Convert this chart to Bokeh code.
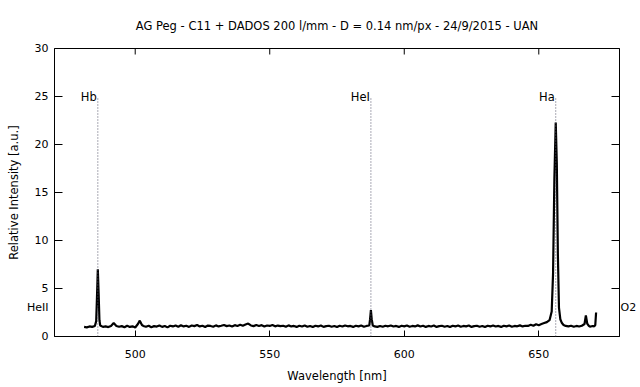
import math
from bokeh.plotting import figure
from bokeh.models import ColumnDataSource, LinearAxis, FixedTicker, Label, Arrow, Range1d
from bokeh.embed import file_html
from bokeh.resources import INLINE

title_text = "AG Peg - C11 + DADOS 200 l/mm - D = 0.14 nm/px - 24/9/2015 - UAN"
x_label = "Wavelength [nm]"
y_label = "Relative Intensity [a.u.]"

wavelength = [
    481, 482, 483, 484, 485, 485.5, 485.8, 486.1, 486.4, 486.7, 487, 488, 489, 490,
    491, 492, 493, 494, 495, 496, 497, 498, 499, 500, 501, 501.7, 502.5, 503, 504,
    505, 506, 507, 508, 509, 510, 511, 512, 513, 514, 515, 516, 517, 518, 519, 520,
    521, 522, 523, 524, 525, 526, 527, 528, 529, 530, 531, 532, 533, 534, 535, 536,
    537, 538, 539, 540, 541, 542, 543, 544, 545, 546, 547, 548, 549, 550, 551, 552,
    553, 554, 555, 556, 557, 558, 559, 560, 561, 562, 563, 564, 565, 566, 567, 568,
    569, 570, 571, 572, 573, 574, 575, 576, 577, 578, 579, 580, 581, 582, 583, 584,
    585, 586, 587, 587.3, 587.6, 587.9, 588.3, 589, 590, 591, 592, 593, 594, 595,
    596, 597, 598, 599, 600, 601, 602, 603, 604, 605, 606, 607, 608, 609, 610, 611,
    612, 613, 614, 615, 616, 617, 618, 619, 620, 621, 622, 623, 624, 625, 626, 627,
    628, 629, 630, 631, 632, 633, 634, 635, 636, 637, 638, 639, 640, 641, 642, 643,
    644, 645, 646, 647, 648, 649, 650, 651, 652, 653, 654, 654.8, 655.3, 655.8,
    656.3, 656.7, 657.1, 657.5, 658.0, 658.6, 659.2, 660, 661, 662, 663, 664, 665,
    666, 667, 667.5, 668, 668.6, 669, 670, 670.6, 671, 671.3,
]
intensity = [
    1.00, 0.95, 1.05, 1.00, 1.10, 1.60, 4.20, 7.00, 4.50, 1.70, 1.15, 1.00, 1.05, 0.98,
    1.10, 1.40, 1.10, 1.02, 1.08, 0.96, 1.12, 1.00, 1.06, 0.94, 1.30, 1.65, 1.20, 1.10, 1.02,
    1.12, 0.97, 1.08, 1.03, 1.15, 1.00, 1.10, 0.95, 1.12, 1.05, 1.15, 1.02, 1.18, 1.05, 1.12, 1.00,
    1.15, 1.08, 1.20, 1.05, 1.12, 1.00, 1.14, 1.10, 1.02, 1.16, 1.05, 1.12, 1.20, 1.08, 1.15, 1.05,
    1.18, 1.10, 1.22, 1.12, 1.25, 1.35, 1.15, 1.08, 1.20, 1.10, 1.18, 1.05, 1.15, 1.10, 1.20, 1.06,
    1.14, 1.08, 1.12, 1.02, 1.16, 1.05, 1.10, 1.00, 1.12, 1.04, 1.15, 1.02, 1.10, 0.98, 1.12, 1.05,
    1.15, 1.00, 1.08, 1.12, 1.02, 1.10, 0.98, 1.12, 1.04, 1.15, 1.06, 1.10, 1.00, 1.12, 1.05, 1.14,
    1.02, 1.10, 1.15, 1.80, 2.75, 1.80, 1.15, 1.05, 1.00, 1.10, 1.02, 1.12, 1.06, 1.15,
    1.04, 1.10, 1.00, 1.12, 1.06, 1.14, 1.02, 1.10, 1.05, 1.16, 1.04, 1.12, 1.00, 1.10, 1.04, 1.14,
    1.00, 1.08, 1.12, 1.02, 1.10, 0.98, 1.12, 1.05, 1.15, 1.02, 1.10, 1.05, 1.14, 1.00, 1.08, 1.12,
    1.02, 1.10, 0.98, 1.12, 1.05, 1.15, 1.04, 1.10, 1.00, 1.12, 1.06, 1.14, 1.02, 1.10, 1.06, 1.16,
    1.05, 1.12, 1.10, 1.22, 1.12, 1.28, 1.18, 1.30, 1.40, 1.50, 1.70, 2.60, 6.50, 16.50,
    22.30, 18.00, 8.50, 3.00, 1.80, 1.40, 1.20, 1.10, 1.05, 1.12, 1.02, 1.10, 1.04,
    1.12, 1.30, 2.20, 1.35, 1.10, 1.02, 1.10, 1.05, 1.20, 2.50,
]

line_names = ["HeII", "Hb", "HeI", "Ha", "O2"]
line_wl = [468.6, 486.1, 587.6, 656.3, 687.0]
line_top = [2.0, 25.0, 25.0, 25.0, 3.0]
label_y = [3.0, 25.0, 25.0, 25.0, 3.0]

x_ticks = [500, 550, 600, 650]
y_ticks = [0, 5, 10, 15, 20, 25, 30]
X_MIN, X_MAX = 470, 680
Y_MIN, Y_MAX = 0, 30

FONT = "DejaVu Sans"

p = figure(
    width=640, height=387,
    x_range=Range1d(X_MIN, X_MAX), y_range=Range1d(Y_MIN, Y_MAX),
    output_backend="svg", toolbar_location=None,
    min_border_left=54, min_border_right=21, min_border_top=48, min_border_bottom=51,
    x_axis_label=x_label, y_axis_label=y_label,
)
p.background_fill_color = "white"
p.border_fill_color = "white"
p.outline_line_color = "black"
p.outline_line_alpha = 1.0
p.xgrid.visible = False
p.ygrid.visible = False

p.title.text = title_text
p.title.align = "center"
p.title.text_font = FONT
p.title.text_font_size = "11.5px"
p.title.text_font_style = "normal"
p.title.text_color = "black"
p.title.standoff = 31

# line marks that fall outside the plotted range are labelled at the frame edges
left_marks = {ly: n for n, wl, ly in zip(line_names, line_wl, label_y) if wl < X_MIN}
right_marks = {ly: n for n, wl, ly in zip(line_names, line_wl, label_y) if wl > X_MAX}

for ax in p.xaxis:
    ax.ticker = FixedTicker(ticks=x_ticks)
    ax.major_tick_in = 6
    ax.major_tick_out = 0
    ax.minor_tick_in = 0
    ax.minor_tick_out = 0
    ax.axis_line_color = "black"
    ax.major_tick_line_color = "black"
    ax.major_label_text_font = FONT
    ax.major_label_text_font_size = "11px"
    ax.major_label_text_color = "black"
    ax.major_label_standoff = 13
    ax.axis_label_text_font = FONT
    ax.axis_label_text_font_size = "11.5px"
    ax.axis_label_text_font_style = "normal"
    ax.axis_label_text_color = "black"
    ax.axis_label_standoff = 8

for ax in p.yaxis:
    ax.ticker = FixedTicker(ticks=y_ticks + list(left_marks.keys()))
    ax.major_label_overrides = dict(left_marks)
    ax.major_tick_in = 0
    ax.major_tick_out = 0
    ax.minor_tick_in = 0
    ax.minor_tick_out = 0
    ax.axis_line_color = "black"
    ax.major_label_text_font = FONT
    ax.major_label_text_font_size = "11px"
    ax.major_label_text_color = "black"
    ax.major_label_standoff = 6
    ax.axis_label_text_font = FONT
    ax.axis_label_text_font_size = "11.5px"
    ax.axis_label_text_font_style = "normal"
    ax.axis_label_text_color = "black"
    ax.axis_label_standoff = 3

right_axis = LinearAxis(
    ticker=FixedTicker(ticks=list(right_marks.keys())), major_label_overrides=dict(right_marks),
    major_tick_in=0, major_tick_out=0, minor_tick_in=0, minor_tick_out=0,
    major_label_standoff=1, major_label_text_font=FONT, major_label_text_font_size="11px",
    major_label_text_color="black", axis_line_color="black",
)
p.add_layout(right_axis, "right")

# inward tick marks on left, right (mirror) and top (mirror) borders
p.ray(x=[X_MIN] * len(y_ticks), y=y_ticks, length=8, angle=0, length_units="screen",
      line_color="black", line_width=1)
p.ray(x=[X_MAX] * len(y_ticks), y=y_ticks, length=8, angle=math.pi, length_units="screen",
      line_color="black", line_width=1)
p.ray(x=x_ticks, y=[Y_MAX] * len(x_ticks), length=6, angle=-math.pi / 2, length_units="screen",
      line_color="black", line_width=1)

marks = ColumnDataSource(dict(
    wl=line_wl, top=line_top, y0=[0.0] * len(line_wl),
))
p.add_layout(Arrow(
    end=None, x_start="wl", y_start="y0", x_end="wl", y_end="top", source=marks,
    line_color="#55556a", line_width=1, line_dash="1 2",
))
for name, wl, ly in zip(line_names, line_wl, label_y):
    if X_MIN <= wl <= X_MAX:
        p.add_layout(Label(
            x=wl, y=ly, text=name, text_align="right", text_baseline="middle",
            x_offset=-1, text_font=FONT, text_font_size="11.5px", text_color="black",
        ))

p.line(wavelength, intensity, line_color="black", line_width=2.2)

open("out.html", "w").write(file_html(p, INLINE))
